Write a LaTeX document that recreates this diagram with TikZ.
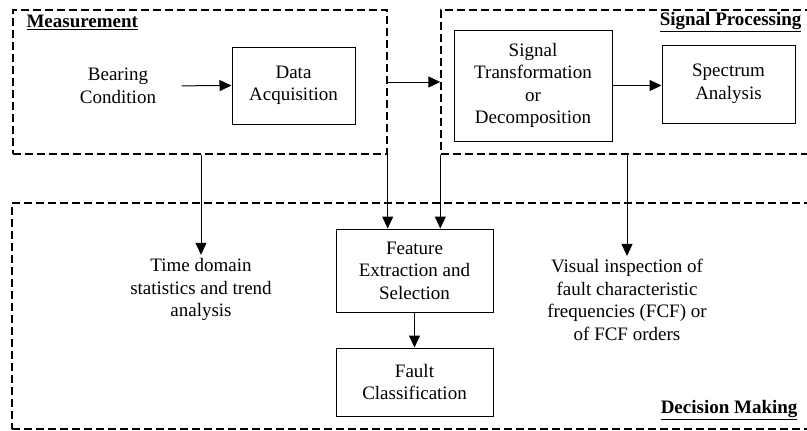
\documentclass[tikz,border=0pt]{standalone}
\usepackage{fontspec}
\setmainfont{Liberation Serif}
\usetikzlibrary{arrows.meta}

\begin{document}
\begin{tikzpicture}[x=1pt, y=-1pt,
  every node/.style={font=\fontsize{19}{22.5}\selectfont, align=center},
  blk/.style={draw, line width=1pt, inner sep=0pt},
  grp/.style={draw, line width=1.4pt, dash pattern=on 8pt off 4pt, inner sep=0pt},
  arr/.style={line width=1pt, -{Triangle[length=12pt,width=11pt]}},
  grptitle/.style={font=\fontsize{19}{22.5}\selectfont\bfseries}]
\useasboundingbox (0,0) rectangle (807,431);

% Dashed groups
\node[grp, minimum width=374pt, minimum height=144pt] (meas) at (200,82) {};
\node[grp, minimum width=372pt, minimum height=144pt] (sp) at (627,82) {};
\node[grp, minimum width=803pt, minimum height=226pt] (dm) at (413.5,316) {};

\node[grptitle, anchor=west] at (23,22) {\underline{Measurement}};
\node[grptitle, anchor=east] at (805,22) {\underline{Signal Processing}};
\node[grptitle, anchor=east] at (801,410) {\underline{Decision Making}};

% Measurement
\node (bear) at (118,86) {Bearing\\Condition};
\node[blk, minimum width=123pt, minimum height=77pt] (daq) at (293.5,85.5) {Data\\Acquisition};

% Signal processing
\node[blk, minimum width=158pt, minimum height=111pt] (sig) at (533,85.5) {Signal\\Transformation\\or\\Decomposition};
\node[blk, minimum width=133pt, minimum height=78pt] (spec) at (728.5,84) {Spectrum\\Analysis};

% Decision making
\node (tdom) at (201,289.5) {Time domain\\statistics and trend\\analysis};
\node[blk, minimum width=157pt, minimum height=83pt] (feat) at (414.5,270.5) {Feature\\Extraction and\\Selection};
\node[blk, minimum width=157pt, minimum height=68pt] (fault) at (414.5,382) {Fault\\Classification};
\node (vis) at (627,300) {Visual inspection of\\fault characteristic\\frequencies (FCF) or\\of FCF orders};

% Connectors
\draw[arr, shorten <=22pt] (bear.east) -- (daq.west);
\draw[arr] (sig.east) -- (sig.east -| spec.west);
\draw[arr] (meas.east) -- (sp.west);
\draw[arr] (meas.south -| tdom.north) -- (tdom.north);
\draw[arr] (meas.south east) -- (meas.south east |- feat.north);
\draw[arr] (sp.south west) -- (sp.south west |- feat.north);
\draw[arr] (sp.south -| vis.north) -- (vis.north);
\draw[arr] (feat) -- (fault);
\end{tikzpicture}
\end{document}
